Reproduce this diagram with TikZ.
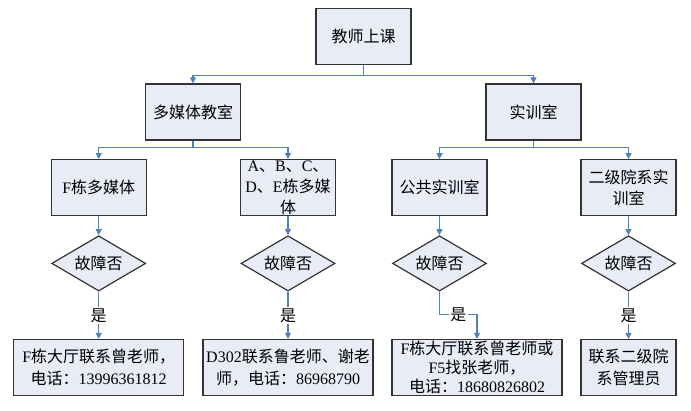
\documentclass[tikz,border=0pt]{standalone}
\usepackage{fontspec}
\usepackage{tikz}
\usetikzlibrary{shapes.geometric,arrows.meta}
\setmainfont{Liberation Serif}
\newfontfamily\cjk{Noto Sans CJK SC}
\newcommand{\zh}[1]{{\cjk #1}}
\definecolor{boxfill}{RGB}{232,236,246}
\definecolor{linkblue}{RGB}{79,129,189}

\begin{document}
\begin{tikzpicture}[x=0.75pt,y=0.75pt,yscale=-1,xscale=1,
	box/.style={draw=black!80,line width=0.9pt,fill=boxfill,minimum width=71.25pt,minimum height=42pt,inner sep=0pt,align=center,font=\fontsize{12}{16}\selectfont},
	wide/.style={box,minimum width=127.5pt},
	test/.style={diamond,draw=black!80,line width=0.9pt,fill=boxfill,aspect=1.7,inner sep=0pt,minimum width=70.5pt,minimum height=41.5pt,font=\fontsize{12}{16}\selectfont},
	link/.style={draw=linkblue,line width=0.8pt,-{Triangle[length=4.5pt,width=4.5pt]}},
	yes/.style={fill=white,inner sep=1pt,font=\fontsize{12}{16}\selectfont}]
			\useasboundingbox (0,0) rectangle (691,410);
			
			%Flowchart: Process
			\node [box] (top) at (363.5,36.5) {\zh{教师上课}};
			\node [box] (mm) at (193,112) {\zh{多媒体教室}};
			\node [box] (sx) at (533.5,112) {\zh{实训室}};
			%Flowchart: Process
			\node [box] (fmm) at (98.7,187.7) {F\zh{栋多媒体}};
			\node [box] (amm) at (288,187.7) {A\zh{、}B\zh{、}C\zh{、}\\D\zh{、}E\zh{栋多媒}\\\zh{体}};
			\node [box] (gg) at (439.5,187.7) {\zh{公共实训室}};
			\node [box] (ej) at (628.5,187.7) {\zh{二级院系实}\\\zh{训室}};
			%Flowchart: Decision
			\node [test] (t1) at (98.7,263.4) {\zh{故障否}};
			\node [test] (t2) at (288,263.4) {\zh{故障否}};
			\node [test] (t3) at (439.5,263.4) {\zh{故障否}};
			\node [test] (t4) at (628.5,263.4) {\zh{故障否}};
			%Flowchart: Process
			\node [wide] (c1) at (98.7,367.5) {F\zh{栋大厅联系曾老师，}\\\zh{电话：}13996361812};
			\node [wide] (c2) at (288,367.5) {D302\zh{联系鲁老师、谢老}\\\zh{师，电话：}86968790};
			\node [wide,font=\fontsize{12}{14.5}\selectfont] (c3) at (477,367.5) {F\zh{栋大厅联系曾老师或}\\F5\zh{找张老师，}\\\zh{电话：}18680826802};
			\node [box] (c4) at (628.5,367.5) {\zh{联系二级院}\\\zh{系管理员}};
			
			%Connectors
			\draw [link] (top.south) -- ++(0,10.5) -| (mm.north);
			\draw [link] (top.south) -- ++(0,10.5) -| (sx.north);
			\draw [link] (mm.south) -- ++(0,7) -| (fmm.north);
			\draw [link] (mm.south) -- ++(0,7) -| (amm.north);
			\draw [link] (sx.south) -- ++(0,7) -| (gg.north);
			\draw [link] (sx.south) -- ++(0,7) -| (ej.north);
			\draw [link] (fmm) -- (t1);
			\draw [link] (amm) -- (t2);
			\draw [link] (gg) -- (t3);
			\draw [link] (ej) -- (t4);
			\draw [link] (t1) -- node [yes] {\zh{是}} (c1);
			\draw [link] (t2) -- node [yes] {\zh{是}} (c2);
			\draw [link] (t3.south) -- ++(0,23) -| node [yes,pos=0.25] {\zh{是}} (c3.north);
			\draw [link] (t4) -- node [yes] {\zh{是}} (c4);
		\end{tikzpicture}
\end{document}
